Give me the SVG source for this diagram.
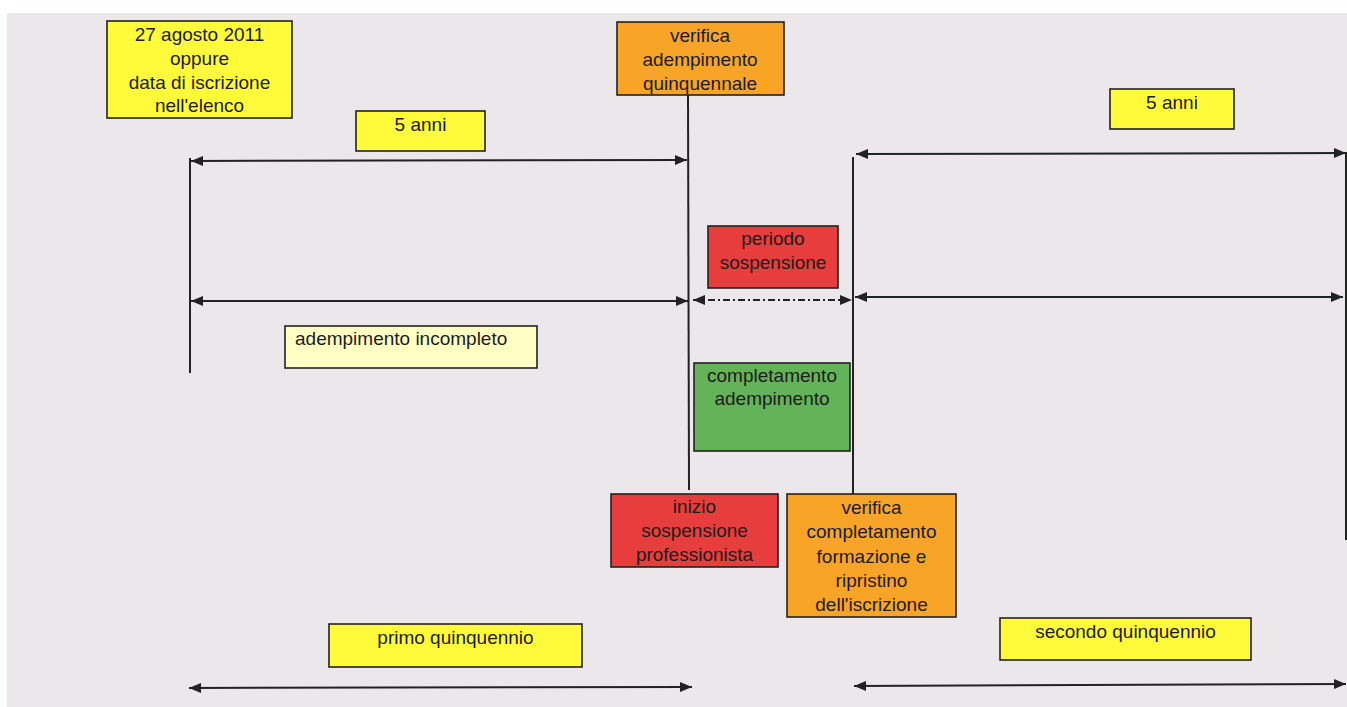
<svg xmlns="http://www.w3.org/2000/svg" width="1347" height="707" viewBox="0 0 1347 707">
<style>
.bg{fill:#ebe7eb}
.box{stroke:#222;stroke-width:1.6}
.y{fill:#fffb3a}
.ly{fill:#ffffc4}
.o{fill:#f8a427}
.r{fill:#e83d3d}
.g{fill:#63b359}
text{font-family:"Liberation Sans",Arial,sans-serif;font-size:19px;fill:#1c1c1c;text-anchor:middle}
.ln{stroke:#222;stroke-width:2;fill:none}
.arr{stroke:#222;stroke-width:2;fill:none;marker-start:url(#ah);marker-end:url(#ah)}
.dash{stroke-dasharray:7 3 2 3}
</style>
<defs>
<marker id="ah" viewBox="0 0 12 10" refX="12" refY="5" markerWidth="12" markerHeight="10" markerUnits="userSpaceOnUse" orient="auto-start-reverse">
<path d="M0,0 L12,5 L0,10 z" fill="#222"/>
</marker>
</defs>
<rect x="0" y="0" width="1347" height="707" fill="#ffffff"/>
<rect class="bg" x="7" y="13" width="1340" height="694"/>

<g id="connectors">
<line class="ln" x1="190" y1="158" x2="190" y2="373"/>
<line class="ln" x1="688" y1="95" x2="689" y2="490"/>
<line class="ln" x1="853" y1="157" x2="853" y2="494"/>
<line class="ln" x1="1346" y1="152" x2="1346" y2="540" stroke-width="1.2"/>
<line class="arr" x1="191" y1="161" x2="687" y2="160"/>
<line class="arr" x1="856" y1="154" x2="1346" y2="153"/>
<line class="arr" x1="191" y1="301" x2="688" y2="301"/>
<line class="arr dash" x1="693" y1="300" x2="852" y2="300"/>
<line class="arr" x1="855" y1="297" x2="1343" y2="297"/>
<line class="arr" x1="189" y1="688" x2="692" y2="687"/>
<line class="arr" x1="854" y1="686" x2="1346" y2="684"/>
</g>

<g id="start-date">
<rect class="box y" x="107" y="21" width="185" height="97"/>
<text x="199.5" y="41">27 agosto 2011</text>
<text x="199.5" y="65">oppure</text>
<text x="199.5" y="89">data di iscrizione</text>
<text x="199.5" y="112">nell'elenco</text>
</g>

<g id="five-years-1">
<rect class="box y" x="356" y="111" width="129" height="40"/>
<text x="420.5" y="131">5 anni</text>
</g>

<g id="verifica-quinquennale">
<rect class="box o" x="617" y="22" width="167" height="73"/>
<text x="700" y="42">verifica</text>
<text x="700" y="66">adempimento</text>
<text x="700" y="90">quinquennale</text>
</g>

<g id="five-years-2">
<rect class="box y" x="1110" y="89" width="124" height="40"/>
<text x="1172" y="109">5 anni</text>
</g>

<g id="periodo-sospensione">
<rect class="box r" x="708" y="226" width="130" height="62"/>
<text x="773" y="245">periodo</text>
<text x="773" y="269">sospensione</text>
</g>

<g id="adempimento-incompleto">
<rect class="box ly" x="285" y="326" width="252" height="42"/>
<text x="295" y="345" style="text-anchor:start">adempimento incompleto</text>
</g>

<g id="completamento-adempimento">
<rect class="box g" x="694" y="363" width="156" height="88"/>
<text x="772" y="382">completamento</text>
<text x="772" y="405">adempimento</text>
</g>

<g id="inizio-sospensione">
<rect class="box r" x="611" y="494" width="167" height="73"/>
<text x="694.5" y="513">inizio</text>
<text x="694.5" y="537">sospensione</text>
<text x="694.5" y="561">professionista</text>
</g>

<g id="verifica-completamento">
<rect class="box o" x="787" y="494" width="169" height="123"/>
<text x="871.5" y="514">verifica</text>
<text x="871.5" y="538">completamento</text>
<text x="871.5" y="563">formazione e</text>
<text x="871.5" y="587">ripristino</text>
<text x="871.5" y="611">dell'iscrizione</text>
</g>

<g id="primo-quinquennio">
<rect class="box y" x="329" y="624" width="253" height="43"/>
<text x="455.5" y="644">primo quinquennio</text>
</g>

<g id="secondo-quinquennio">
<rect class="box y" x="1000" y="618" width="251" height="42"/>
<text x="1125.5" y="638">secondo quinquennio</text>
</g>
</svg>
